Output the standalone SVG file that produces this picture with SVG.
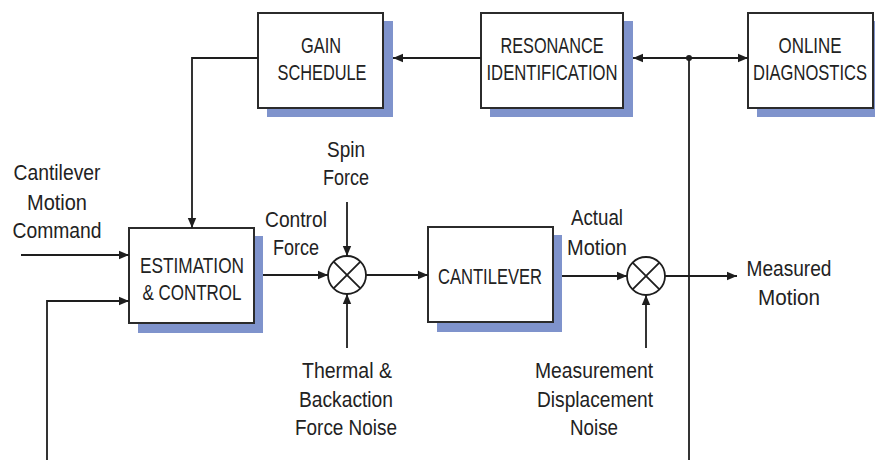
<svg xmlns="http://www.w3.org/2000/svg" width="875" height="460" viewBox="0 0 875 460">
<defs>
<style>
.box{fill:#fff;stroke:#2b2b2b;stroke-width:2}
.shadow{fill:#7f93cc}
.ln{fill:none;stroke:#1e1e1e;stroke-width:1.8}
.sum{fill:#fff;stroke:#1e1e1e;stroke-width:1.8}
text{font-family:"Liberation Sans Narrow","Liberation Sans",Arial,sans-serif;font-size:22px;fill:#222;text-anchor:middle}
</style>
<marker id="ah" viewBox="0 0 10 10" refX="10" refY="5" markerWidth="10" markerHeight="10" markerUnits="userSpaceOnUse" orient="auto">
<path d="M0,0.8 L10,5 L0,9.2 Z" fill="#1e1e1e"/>
</marker>
</defs>
<rect width="875" height="460" fill="#fff"/>

<g id="gain-schedule">
<rect class="shadow" x="267" y="21" width="126" height="96"/>
<rect class="box" x="258" y="13" width="125" height="95"/>
<text x="321" y="53" textLength="40" lengthAdjust="spacingAndGlyphs">GAIN</text>
<text x="322" y="80" textLength="89" lengthAdjust="spacingAndGlyphs">SCHEDULE</text>
</g>

<g id="resonance-identification">
<rect class="shadow" x="490" y="21" width="143" height="96"/>
<rect class="box" x="481" y="13" width="142" height="95"/>
<text x="552" y="53" textLength="103" lengthAdjust="spacingAndGlyphs">RESONANCE</text>
<text x="552" y="80" textLength="131" lengthAdjust="spacingAndGlyphs">IDENTIFICATION</text>
</g>

<g id="online-diagnostics">
<rect class="shadow" x="757" y="21" width="126" height="96"/>
<rect class="box" x="748" y="13" width="125" height="95"/>
<text x="810" y="53" textLength="63" lengthAdjust="spacingAndGlyphs">ONLINE</text>
<text x="810" y="80" textLength="114" lengthAdjust="spacingAndGlyphs">DIAGNOSTICS</text>
</g>

<g id="estimation-control">
<rect class="shadow" x="138" y="236" width="125" height="97"/>
<rect class="box" x="129" y="228" width="125" height="95"/>
<text x="192" y="273" textLength="104" lengthAdjust="spacingAndGlyphs">ESTIMATION</text>
<text x="192" y="300" textLength="99" lengthAdjust="spacingAndGlyphs">&amp; CONTROL</text>
</g>

<g id="cantilever">
<rect class="shadow" x="437" y="235" width="125" height="97"/>
<rect class="box" x="428" y="227" width="125" height="95"/>
<text x="490" y="284" textLength="104" lengthAdjust="spacingAndGlyphs">CANTILEVER</text>
</g>

<g id="sum1">
<circle class="sum" cx="347" cy="275" r="19"/>
<path class="ln" d="M333.6,261.6 L360.4,288.4 M360.4,261.6 L333.6,288.4"/>
</g>

<g id="sum2">
<circle class="sum" cx="646" cy="276" r="19"/>
<path class="ln" d="M632.6,262.6 L659.4,289.4 M659.4,262.6 L632.6,289.4"/>
</g>

<g id="labels">
<text x="57" y="180" textLength="87" lengthAdjust="spacingAndGlyphs">Cantilever</text>
<text x="57" y="210" textLength="60" lengthAdjust="spacingAndGlyphs">Motion</text>
<text x="57" y="238" textLength="89" lengthAdjust="spacingAndGlyphs">Command</text>
<text x="296" y="227" textLength="62" lengthAdjust="spacingAndGlyphs">Control</text>
<text x="296" y="255" textLength="46" lengthAdjust="spacingAndGlyphs">Force</text>
<text x="346" y="157" textLength="38" lengthAdjust="spacingAndGlyphs">Spin</text>
<text x="346" y="185" textLength="46" lengthAdjust="spacingAndGlyphs">Force</text>
<text x="347" y="378" textLength="90" lengthAdjust="spacingAndGlyphs">Thermal &amp;</text>
<text x="346" y="407" textLength="94" lengthAdjust="spacingAndGlyphs">Backaction</text>
<text x="346" y="435" textLength="102" lengthAdjust="spacingAndGlyphs">Force Noise</text>
<text x="597" y="225" textLength="52" lengthAdjust="spacingAndGlyphs">Actual</text>
<text x="597" y="255" textLength="60" lengthAdjust="spacingAndGlyphs">Motion</text>
<text x="594" y="378" textLength="118" lengthAdjust="spacingAndGlyphs">Measurement</text>
<text x="595" y="407" textLength="116" lengthAdjust="spacingAndGlyphs">Displacement</text>
<text x="594" y="435" textLength="48" lengthAdjust="spacingAndGlyphs">Noise</text>
<text x="789" y="276" textLength="85" lengthAdjust="spacingAndGlyphs">Measured</text>
<text x="789" y="305" textLength="62" lengthAdjust="spacingAndGlyphs">Motion</text>
</g>

<g id="connectors">
<path class="ln" d="M481,58 L393,58" marker-end="url(#ah)"/>
<path class="ln" d="M689,58 L633,58" marker-end="url(#ah)"/>
<path class="ln" d="M689,58 L748,58" marker-end="url(#ah)"/>
<path class="ln" d="M689,58 L689,460"/>
<circle cx="689" cy="58" r="3" fill="#1e1e1e"/>
<path class="ln" d="M258,58 L192,58 L192,228" marker-end="url(#ah)"/>
<path class="ln" d="M21,255 L129,255" marker-end="url(#ah)"/>
<path class="ln" d="M47,460 L47,301 L129,301" marker-end="url(#ah)"/>
<path class="ln" d="M263,275 L328,275" marker-end="url(#ah)"/>
<path class="ln" d="M347,202 L347,256" marker-end="url(#ah)"/>
<path class="ln" d="M347,348 L347,294" marker-end="url(#ah)"/>
<path class="ln" d="M366,275 L428,275" marker-end="url(#ah)"/>
<path class="ln" d="M562,276 L627,276" marker-end="url(#ah)"/>
<path class="ln" d="M646,348 L646,295" marker-end="url(#ah)"/>
<path class="ln" d="M665,276 L737,276" marker-end="url(#ah)"/>
</g>
</svg>
